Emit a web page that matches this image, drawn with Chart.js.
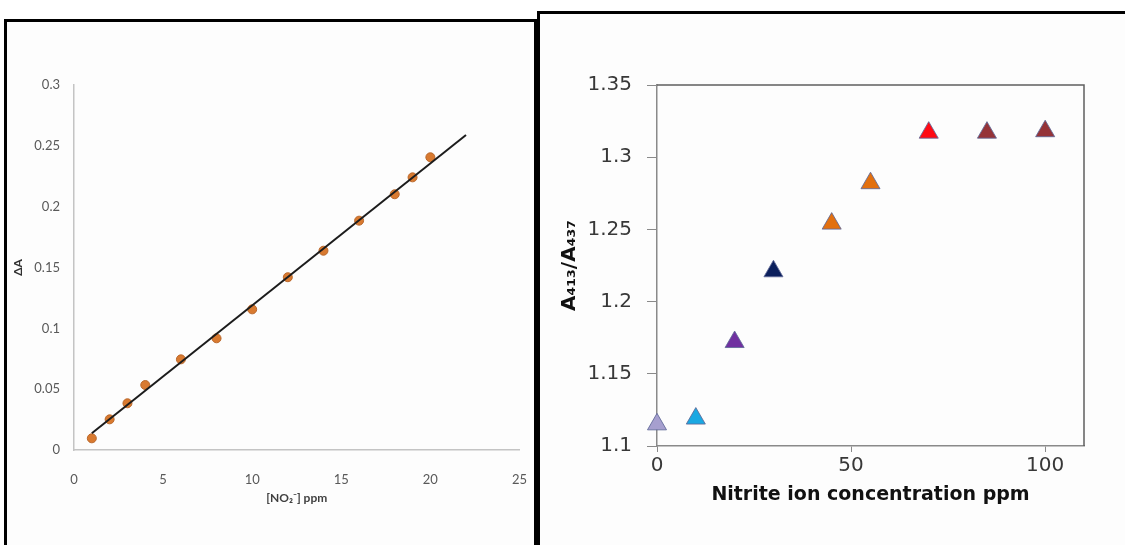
<!DOCTYPE html>
<html>
<head>
<meta charset="utf-8">
<title>Nitrite calibration</title>
<script src="https://cdn.jsdelivr.net/npm/chart.js@4.4.0/dist/chart.umd.min.js"></script>
<style>
    html, body { margin: 0; padding: 0; background: #fff; }
    body { width: 1125px; height: 545px; position: relative; overflow: hidden; }
    .panel { position: absolute; box-sizing: border-box; border: 3px solid #000; background: #fdfdfd; }
    #leftPanel { left: 4px; top: 19px; width: 533px; height: 600px; }
    #rightPanel { left: 537px; top: 11px; width: 620px; height: 600px; }
    canvas { position: absolute; top: 0; }
    #calCanvas { left: 0; }
    #ratioCanvas { left: 541px; }
</style>
</head>
<body>
<div class="panel" id="leftPanel"></div>
<div class="panel" id="rightPanel"></div>
<!-- left canvas is a bit wider than its panel: the x labels' padding eats the right edge -->
<canvas id="calCanvas" width="549" height="545"></canvas>
<canvas id="ratioCanvas" width="584" height="545"></canvas>

<script>
// Left panel: calibration points and fitted line
const calConc = [1, 2, 3, 4, 6, 8, 10, 12, 14, 16, 18, 19, 20];
const calDeltaA = [0.0096, 0.0252, 0.0384, 0.0534, 0.0745, 0.0918, 0.1156, 0.1420, 0.1638, 0.1885, 0.2102, 0.2241, 0.2406];
const fitConc = [1, 22];
const fitDeltaA = [0.0137, 0.2589];
const calXTicks = [0, 5, 10, 15, 20, 25];
const calYTicks = [0, 0.05, 0.1, 0.15, 0.2, 0.25, 0.3];

// Right panel: absorbance ratio vs nitrite concentration
const ratioConc = [0, 10, 20, 30, 45, 55, 70, 85, 100];
const ratioValue = [1.115, 1.119, 1.172, 1.221, 1.254, 1.282, 1.317, 1.317, 1.318];
const ratioColors = ['#a69fcf', '#1aa8e2', '#7030a0', '#0b1f5c', '#e2700f', '#e2700f', '#ff0a14', '#953338', '#953338'];
const ratioXTicks = [0, 50, 100];
const ratioYTicks = [1.1, 1.15, 1.2, 1.25, 1.3, 1.35];

Chart.defaults.animation = false;
Chart.defaults.font.family = "'DejaVu Sans', sans-serif";
Chart.defaults.plugins.legend.display = false;
Chart.defaults.plugins.tooltip.enabled = false;

const toPoints = (xs, ys) => xs.map((x, i) => ({ x: x, y: ys[i] }));
const fmt = v => String(+v.toFixed(2));

/**
 * Fix a scale's box size so the plot area lands where the figure has it
 */
function fixWidth(w) {
    return scale => { scale.width = w; };
}
function fixHeight(h) {
    return scale => { scale.height = h; };
}
function useTicks(values) {
    return scale => { scale.ticks = values.map(v => ({ value: v })); };
}

// top and right edges of the plot frame on the right panel
const frameBox = {
    id: 'frameBox',
    afterDraw(chart) {
        const { ctx, chartArea: a } = chart;
        ctx.save();
        ctx.strokeStyle = '#5f5f5f';
        ctx.lineWidth = 1.5;
        ctx.beginPath();
        ctx.moveTo(a.left, a.top);
        ctx.lineTo(a.right, a.top);
        ctx.lineTo(a.right, a.bottom);
        ctx.stroke();
        ctx.restore();
    }
};

const calFont = "'Liberation Sans Narrow', Lato, sans-serif";

new Chart(document.getElementById('calCanvas'), {
    type: 'scatter',
    data: {
        datasets: [
            {
                label: 'Fit',
                data: toPoints(fitConc, fitDeltaA),
                showLine: true,
                borderColor: '#1c1c1c',
                borderWidth: 2,
                pointRadius: 0,
                clip: false,
                order: 0
            },
            {
                label: 'ΔA',
                data: toPoints(calConc, calDeltaA),
                pointRadius: 4.5,
                pointBackgroundColor: '#d97a30',
                pointBorderColor: '#b9682c',
                pointBorderWidth: 1,
                clip: false,
                order: 1
            }
        ]
    },
    options: {
        responsive: false,
        layout: { padding: { left: 0, top: 85, right: 0, bottom: 36 } },
        scales: {
            x: {
                type: 'linear',
                min: 0,
                max: 25,
                afterBuildTicks: useTicks(calXTicks),
                afterFit: fixHeight(59),
                grid: { display: false, drawTicks: false },
                border: { display: true, color: '#c4c4c4', width: 1.5 },
                ticks: { padding: 22, color: '#595959', font: { family: calFont, size: 13 }, callback: fmt },
                title: {
                    display: true,
                    text: '[NO₂⁻] ppm',
                    color: '#404040',
                    padding: { top: 0, bottom: 4 },
                    font: { family: calFont, size: 12, weight: 'bold' }
                }
            },
            y: {
                type: 'linear',
                min: 0,
                max: 0.3,
                afterBuildTicks: useTicks(calYTicks),
                afterFit: fixWidth(74),
                grid: { display: false, drawTicks: false },
                border: { display: true, color: '#c4c4c4', width: 1.5 },
                ticks: { padding: 14, color: '#595959', font: { family: calFont, size: 13 }, callback: fmt },
                title: {
                    display: true,
                    text: 'ΔA',
                    color: '#303030',
                    padding: { top: 11, bottom: 0 },
                    font: { family: calFont, size: 12, weight: 'bold' }
                }
            }
        }
    }
});

new Chart(document.getElementById('ratioCanvas'), {
    type: 'scatter',
    data: {
        datasets: [{
            label: 'A413/A437',
            data: toPoints(ratioConc, ratioValue),
            pointStyle: 'triangle',
            pointRadius: 11,
            pointBackgroundColor: ratioColors,
            pointBorderColor: 'rgba(95, 105, 150, 0.85)',
            pointBorderWidth: 1,
            clip: false
        }]
    },
    options: {
        responsive: false,
        layout: { padding: { left: 0, top: 85, right: 41, bottom: 37 } },
        scales: {
            x: {
                type: 'linear',
                min: 0,
                max: 110,
                afterBuildTicks: useTicks(ratioXTicks),
                afterFit: fixHeight(62),
                grid: { drawOnChartArea: false, drawTicks: true, tickLength: 6, color: '#8a8a8a' },
                border: { display: true, color: '#8a8a8a', width: 1.5 },
                ticks: { padding: 2, color: '#383838', font: { size: 20 }, callback: fmt },
                title: {
                    display: true,
                    text: 'Nitrite ion concentration ppm',
                    color: '#111',
                    padding: { top: 0, bottom: 2 },
                    font: { size: 19, weight: 'bold' }
                }
            },
            y: {
                type: 'linear',
                min: 1.1,
                max: 1.35,
                afterBuildTicks: useTicks(ratioYTicks),
                afterFit: fixWidth(116),
                grid: { drawOnChartArea: false, drawTicks: true, tickLength: 10, color: '#8a8a8a' },
                border: { display: true, color: '#8a8a8a', width: 1.5 },
                ticks: { padding: 15, color: '#383838', font: { size: 20 }, callback: fmt },
                title: {
                    display: true,
                    text: 'A₄₁₃/A₄₃₇',
                    color: '#111',
                    padding: { top: 17, bottom: 0 },
                    font: { size: 20, weight: 'bold' }
                }
            }
        }
    },
    plugins: [frameBox]
});
</script>
</body>
</html>
